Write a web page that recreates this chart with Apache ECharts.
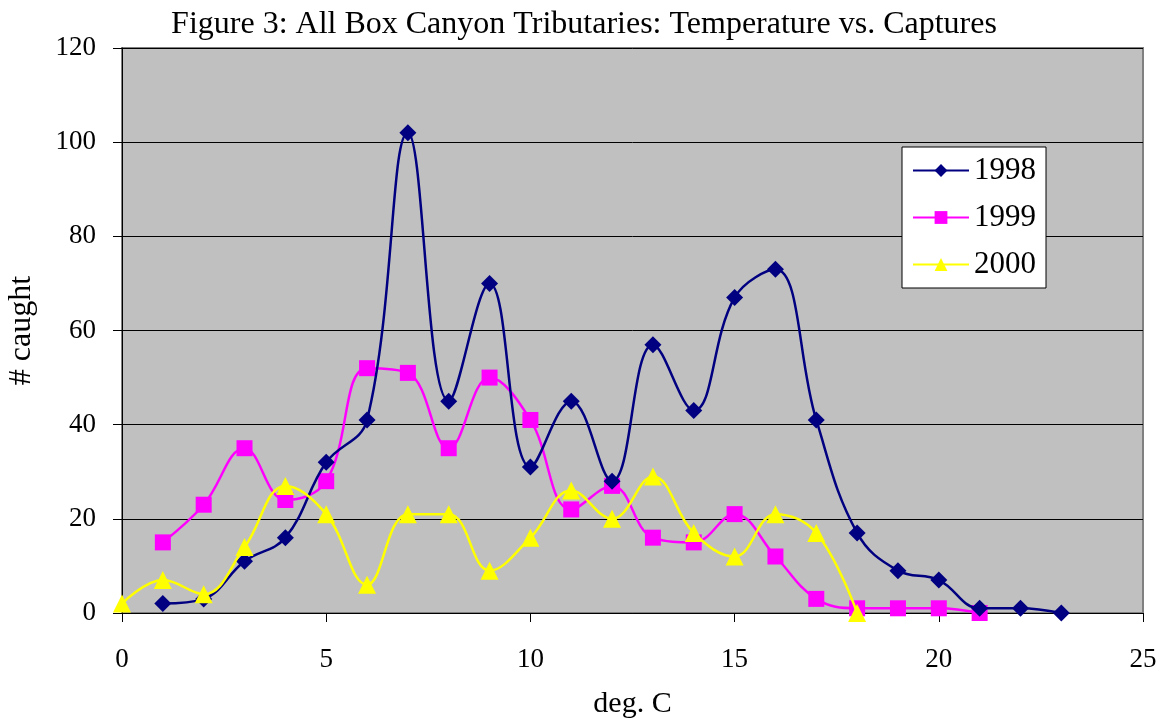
<!DOCTYPE html>
<html><head><meta charset="utf-8">
<script src="https://cdn.jsdelivr.net/npm/echarts@6/dist/echarts.min.js"></script>
<style>html,body{margin:0;padding:0;background:#fff}#c{width:1162px;height:721px}</style>
</head><body><div id="c"></div>
<script>
var temps1998 = [1,2,3,4,5,6,7,8,9,10,11,12,13,14,15,16,17,18,19,20,21,22,23];
var caught1998 = [2,3,11,16,32,41,102,45,70,31,45,28,57,43,67,73,41,17,9,7,1,1,0];
var temps1999 = [1,2,3,4,5,6,7,8,9,10,11,12,13,14,15,16,17,18,19,20,21];
var caught1999 = [15,23,35,24,28,52,51,35,50,41,22,27,16,15,21,12,3,1,1,1,0];
var temps2000 = [0,1,2,3,4,5,6,7,8,9,10,11,12,13,14,15,16,17,18];
var caught2000 = [2,7,4,14,27,21,6,21,21,9,16,26,20,29,17,12,21,17,0];
var seriesNames = ['1998','1999','2000'];

function pairs(xs, ys){ return xs.map(function(x,i){ return [x, ys[i]]; }); }
var font = 'Liberation Serif, Times New Roman, serif';
var chart = echarts.init(document.getElementById('c'), null, {renderer:'canvas'});
chart.setOption({
  animation:false,
  backgroundColor:'#ffffff',
  textStyle:{fontFamily:font},
  title:{text:'Figure 3: All Box Canyon Tributaries: Temperature vs. Captures', left:579, top:4, textAlign:'center',
    textStyle:{fontFamily:font, fontSize:32, fontWeight:'normal', color:'#000'}},
  grid:{left:122, right:19, top:48, bottom:108, containLabel:false, outerBoundsMode:'none',
    show:true, backgroundColor:'#c0c0c0', borderColor:'#808080', borderWidth:2},
  legend:{orient:'vertical', left:902, top:147, padding:[8,10,8,10],
    backgroundColor:'#ffffff', borderColor:'#000', borderWidth:1, itemGap:16, itemWidth:56, itemHeight:16,
    textStyle:{fontFamily:font, fontSize:31, color:'#000'}, data:seriesNames},
  xAxis:{type:'value', min:0, max:25, interval:5, name:'deg. C', nameLocation:'middle', nameGap:76,
    nameTextStyle:{fontFamily:font, fontSize:30, color:'#000'},
    axisLine:{show:true, lineStyle:{color:'#000', width:1}}, axisTick:{show:true, length:9, lineStyle:{color:'#000'}},
    axisLabel:{fontFamily:font, fontSize:27, color:'#000', margin:33}, splitLine:{show:false}},
  yAxis:{type:'value', min:0, max:120, interval:20, name:'# caught', nameLocation:'middle', nameGap:84, nameRotate:90,
    nameTextStyle:{fontFamily:font, fontSize:32, color:'#000'},
    axisLine:{show:true, lineStyle:{color:'#000', width:1}}, axisTick:{show:true, length:9, lineStyle:{color:'#000'}},
    axisLabel:{fontFamily:font, fontSize:27, color:'#000', margin:26},
    splitLine:{show:true, lineStyle:{color:'#000', width:1}}},
  series:[
    {name:'1998', type:'line', smooth:0.4, data:pairs(temps1998, caught1998), symbol:'diamond', symbolSize:17,
      itemStyle:{color:'#000080'}, lineStyle:{color:'#000080', width:2.5}, z:3},
    {name:'1999', type:'line', smooth:0.4, data:pairs(temps1999, caught1999), symbol:'rect', symbolSize:16,
      itemStyle:{color:'#ff00ff'}, lineStyle:{color:'#ff00ff', width:2.5}, z:2},
    {name:'2000', type:'line', smooth:0.4, data:pairs(temps2000, caught2000), symbol:'triangle', symbolSize:18,
      itemStyle:{color:'#ffff00'}, lineStyle:{color:'#ffff00', width:2.5}, z:4}
  ]
});
</script></body></html>
